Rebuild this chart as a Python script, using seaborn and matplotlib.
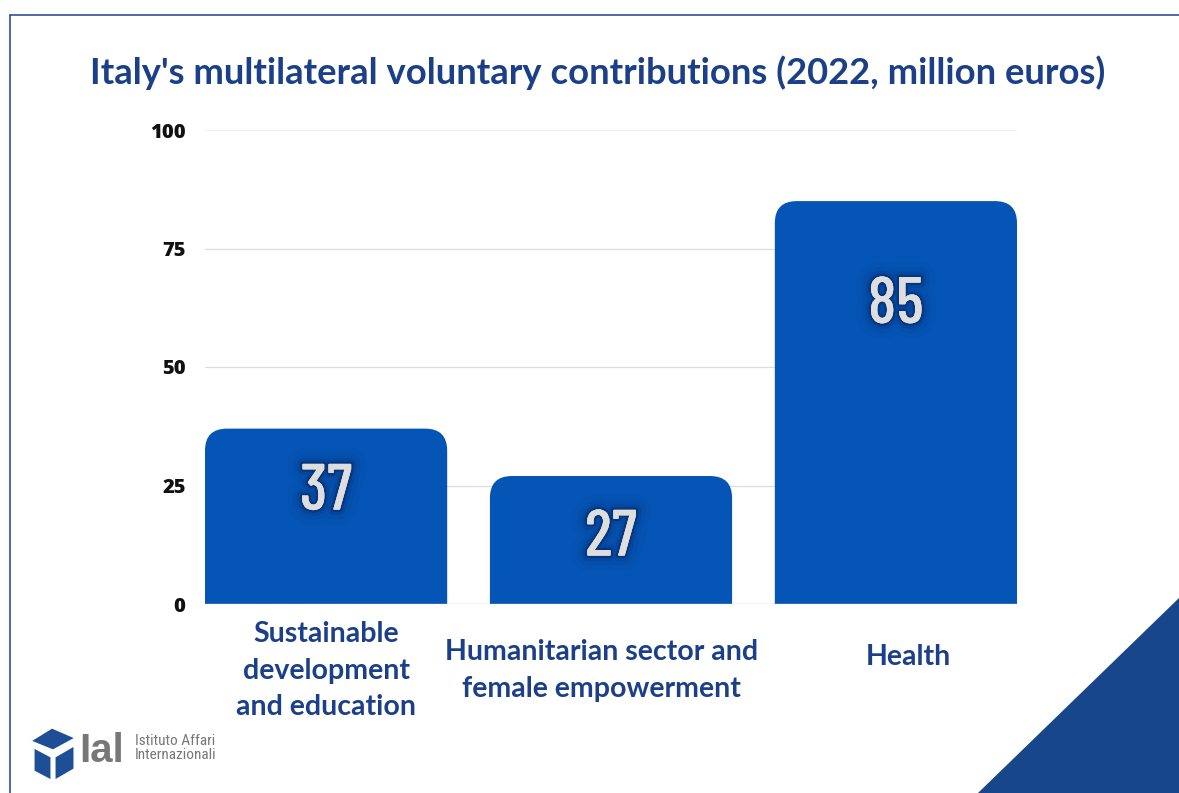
import matplotlib
matplotlib.use("Agg")
import matplotlib.pyplot as plt
import matplotlib.patheffects as pe
import matplotlib.transforms as mtransforms
from matplotlib.patches import FancyBboxPatch, Polygon
from matplotlib.lines import Line2D
import seaborn as sns
import pandas as pd

categories = ["Sustainable\ndevelopment\nand education",
              "Humanitarian sector and\nfemale empowerment",
              "Health"]
values = [37, 27, 85]
yticks = [0, 25, 50, 75, 100]
title = "Italy's multilateral voluntary contributions (2022, million euros)"

BAR = "#0455b5"
NAVY = "#1b3f88"
SANS = ["Lato", "DejaVu Sans"]
NUMFONT = ["Barlow Condensed", "Roboto Condensed", "DejaVu Sans"]

sns.set_theme(style="white")
plt.rcParams["font.family"] = SANS

fig = plt.figure(figsize=(11.79, 7.93), dpi=100)
ax = fig.add_axes([205 / 1179, 189 / 793, 812 / 1179, 474 / 793])

df = pd.DataFrame({"category": categories, "value": values})
sns.barplot(data=df, x="category", y="value", color=BAR, width=0.85,
            saturation=1, ax=ax, zorder=3)

ax.set_xlim(-0.425, 2.425)
ax.set_ylim(0, 100)

# replace plain rectangles with top-rounded bars
px_x = 812 / 2.85
px_y = 474 / 100
aspect = px_x / px_y
r = 22 / px_x
for p in list(ax.patches):
    x0, w, h = p.get_x(), p.get_width(), p.get_height()
    p.set_visible(False)
    fb = FancyBboxPatch((x0, -10), w, h + 10,
                        boxstyle=f"round,pad=0,rounding_size={r}",
                        mutation_aspect=aspect, facecolor=BAR,
                        edgecolor="none", zorder=3, clip_on=True)
    ax.add_patch(fb)

# value labels inside bars, with a soft dark glow
label_drop = [13.6, 13.3, 22.2]
glow = [pe.withStroke(linewidth=22, foreground="#0a3a85", alpha=0.08),
        pe.withStroke(linewidth=14, foreground="#0a3a85", alpha=0.12),
        pe.withStroke(linewidth=8, foreground="#082f70", alpha=0.22),
        pe.withStroke(linewidth=3.5, foreground="#06245a", alpha=0.45),
        pe.Normal()]
for i, v in enumerate(values):
    ax.text(i, v - label_drop[i], str(v), ha="center", va="center",
            fontsize=47, color="#dedede", zorder=5, fontweight="medium",
            family=NUMFONT, path_effects=glow)

ax.set_yticks(yticks)
ax.set_yticklabels([str(t) for t in yticks], fontsize=14.5, fontweight=800,
                   color="#111111", family=["Open Sans", "DejaVu Sans"])
ax.tick_params(axis="y", length=0, pad=14)
ax.tick_params(axis="x", length=0, pad=48)

# small nudges (in points) for the category labels
label_nudge = [(0, 0), (-7, 0), (9, 10)]
for lbl, (dx, dy) in zip(ax.get_xticklabels(), label_nudge):
    lbl.set_fontsize(20.5)
    lbl.set_fontweight("bold")
    lbl.set_color(NAVY)
    lbl.set_linespacing(1.5)
    lbl.set_verticalalignment("center")
    lbl.set_transform(lbl.get_transform() +
                      mtransforms.ScaledTranslation(dx / 72, dy / 72,
                                                    fig.dpi_scale_trans))

ax.set_xlabel("")
ax.set_ylabel("")
for t in [25, 50, 75]:
    ax.axhline(t, color="#dddddd", lw=0.9, zorder=1)
ax.axhline(100, color="#f2f2f2", lw=0.9, zorder=1)
ax.axhline(0, color="#cfcfcf", lw=1.0, zorder=4)
for s in ax.spines.values():
    s.set_visible(False)
ax.grid(False)

fig.text(598 / 1179, 1 - 73 / 793, title, ha="center", va="center",
         fontsize=26.2, fontweight="bold", color=NAVY)

# frame lines
fig.add_artist(Line2D([10 / 1179, 1], [1 - 15 / 793] * 2,
                      transform=fig.transFigure, color="#2f4f9f", lw=1.2))
fig.add_artist(Line2D([10 / 1179] * 2, [0, 1 - 15 / 793],
                      transform=fig.transFigure, color="#2f4f9f", lw=1.2))

# corner triangle
fig.add_artist(Polygon([(978 / 1179, 0), (1, 1 - 598 / 793), (1, 0)],
                       closed=True, transform=fig.transFigure,
                       facecolor="#17468b", edgecolor="none"))


# logo
def fx(x):
    return x / 1179


def fy(y):
    return 1 - y / 793


cube_col = "#1d4e96"
fig.add_artist(Polygon([(fx(31), fy(741)), (fx(52), fy(728)), (fx(75), fy(738)),
                        (fx(53), fy(750))], closed=True,
                       transform=fig.transFigure, facecolor=cube_col, edgecolor="white", lw=0.8))
fig.add_artist(Polygon([(fx(34), fy(748)), (fx(51), fy(757)), (fx(51), fy(780)),
                        (fx(34), fy(771))], closed=True,
                       transform=fig.transFigure, facecolor=cube_col, edgecolor="white", lw=0.8))
fig.add_artist(Polygon([(fx(55), fy(757)), (fx(74), fy(746)), (fx(74), fy(769)),
                        (fx(55), fy(780))], closed=True,
                       transform=fig.transFigure, facecolor=cube_col, edgecolor="white", lw=0.8))
fig.text(fx(79), fy(751), "Ial", ha="left", va="center", fontsize=29,
         fontweight="bold", color="#777777",
         family=["Liberation Sans", "DejaVu Sans"])
fig.text(fx(135), fy(748), "Istituto Affari\nInternazionali", ha="left",
         va="center", fontsize=11, color="#777777", linespacing=0.95,
         family=["Roboto Condensed", "DejaVu Sans"])

fig.savefig("out.png", dpi=100, facecolor="white")
